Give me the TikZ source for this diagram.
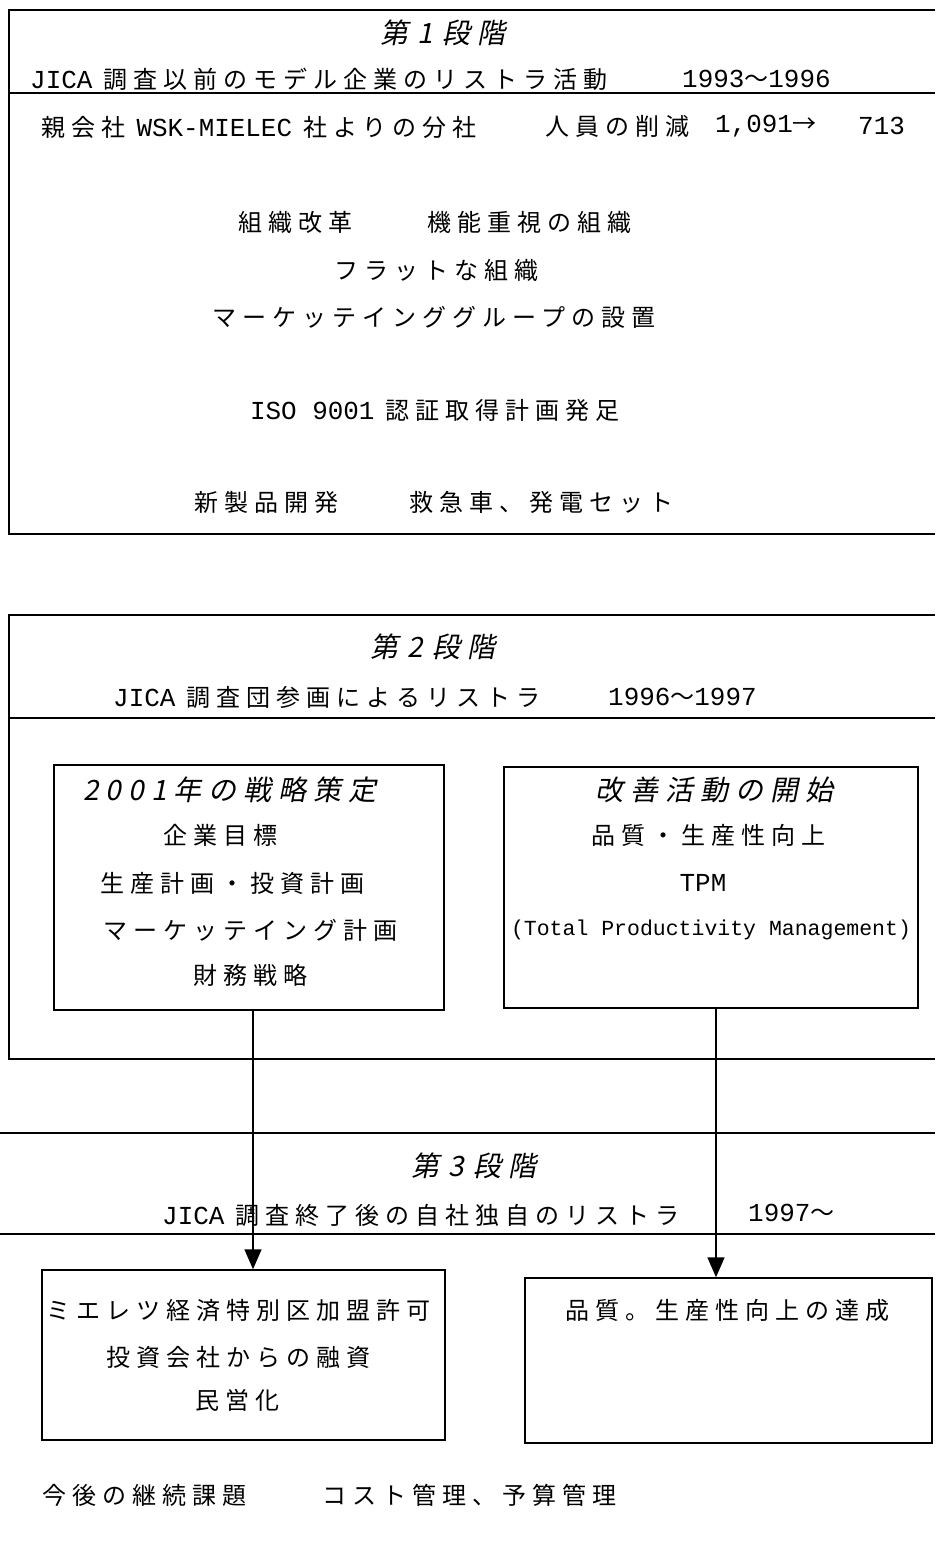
\documentclass[tikz,border=0pt]{standalone}
\usepackage{fontspec}
\setmainfont{Noto Sans CJK JP}[LetterSpace=25]
\newfontfamily\M{Liberation Mono}[Scale=1.08]
\newfontfamily\MM{Liberation Mono}
\newfontfamily\JI{Noto Sans CJK JP}[LetterSpace=25,FakeSlant=0.2]
\usetikzlibrary{arrows.meta}
\tikzset{
  txt/.style={inner sep=0pt, font=\fontsize{24}{28}\selectfont},
  hd/.style={inner sep=0pt, font=\fontsize{28}{32}\selectfont\JI},
  frame/.style={line width=1.7pt},
  box/.style={draw, line width=1.5pt, inner sep=0pt, rectangle},
  arr/.style={line width=1.7pt, -{Triangle[length=20pt,width=17pt]}},
}
\newcommand{\dg}[1]{\hspace{9pt}#1\hspace{9pt}}
\begin{document}
\begin{tikzpicture}[x=1pt,y=-1pt]
\useasboundingbox (0,0) rectangle (935,1544);
% ---------- Stage 1
\draw[frame] (935,10) -- (9,10) -- (9,534) -- (935,534);
\draw[frame] (9,93) -- (935,93);
\node[hd] (s1t) at (443,33) {第\dg{1}段階};
\node[txt,anchor=west] (s1h) at (30,79) {{\M JICA} 調査以前のモデル企業のリストラ活動};
\node[txt,anchor=west] (s1y) at (682,79) {{\M 1993}～{\M 1996}};
\node[txt,anchor=west] (s1a) at (41,127) {親会社 {\M WSK-MIELEC} 社よりの分社};
\node[txt,anchor=west] (s1b) at (545,126) {人員の削減};
\node[txt,anchor=west] (s1c) at (715,126) {{\M 1,091}→};
\node[txt,anchor=west] (s1d) at (858,126) {{\M 713}};
\node[txt,anchor=west] (s1e) at (238,222) {組織改革};
\node[txt,anchor=east] (s1f) at (632,222) {機能重視の組織};
\node[txt] (s1g) at (436,270) {フラットな組織};
\node[txt] (s1m) at (434,317) {マーケッテインググループの設置};
\node[txt] (s1i) at (435,410) {{\M ISO 9001} 認証取得計画発足};
\node[txt,anchor=west] (s1j) at (194,502) {新製品開発};
\node[txt,anchor=east] (s1k) at (674,502) {救急車、発電セット};
% ---------- Stage 2
\draw[frame] (935,615) -- (9,615) -- (9,1059) -- (935,1059);
\draw[frame] (9,718) -- (935,718);
\node[hd] (s2t) at (433,647) {第\dg{2}段階};
\node[txt,anchor=west] (s2h) at (113,697) {{\M JICA} 調査団参画によるリストラ};
\node[txt,anchor=west] (s2y) at (608,697) {{\M 1996}～{\M 1997}};
\node[box, minimum width=390pt, minimum height=245pt] (b2l) at (249,887.5) {};
\node[box, minimum width=414pt, minimum height=241pt] (b2r) at (711,887.5) {};
\node[hd] (l1) at (230,790) {2001年の戦略策定};
\node[txt] (l2) at (220,835) {企業目標};
\node[txt] (l3) at (232,883) {生産計画・投資計画};
\node[txt] (l4) at (250,930) {マーケッテイング計画};
\node[txt] (l5) at (250,975) {財務戦略};
\node[hd] (r1) at (714,790) {改善活動の開始};
\node[txt] (r2) at (708,835) {品質・生産性向上};
\node[txt] (r3) at (703,883) {{\M TPM}};
\node[inner sep=0pt] (r4) at (711,930) {\MM\fontsize{21.5}{26}\selectfont (Total Productivity Management)};
% ---------- Stage 3
\draw[frame] (0,1133) -- (935,1133);
\draw[frame] (0,1234) -- (935,1234);
\node[hd] (s3t) at (474,1166) {第\dg{3}段階};
\node[txt,anchor=west] (s3h) at (162,1215) {{\M JICA} 調査終了後の自社独自のリストラ};
\node[txt,anchor=west] (s3y) at (748,1213) {{\M 1997}～};
\node[box, minimum width=403pt, minimum height=170pt] (b3l) at (243.5,1355) {};
\node[box, minimum width=407pt, minimum height=165pt] (b3r) at (728.5,1360.5) {};
\node[txt] (m1) at (238,1310) {ミエレツ経済特別区加盟許可};
\node[txt] (m2) at (238,1357) {投資会社からの融資};
\node[txt] (m3) at (237,1400) {民営化};
\node[txt] (n1) at (727,1310) {品質。生産性向上の達成};
\node[txt,anchor=west] (f1) at (42,1495) {今後の継続課題};
\node[txt,anchor=west] (f2) at (322,1495) {コスト管理、予算管理};
% ---------- arrows
\coordinate (xl) at (253,0);
\coordinate (xr) at (716,0);
\draw[arr] (b2l.south -| xl) -- (b3l.north -| xl);
\draw[arr] (b2r.south -| xr) -- (b3r.north -| xr);
\end{tikzpicture}
\end{document}
